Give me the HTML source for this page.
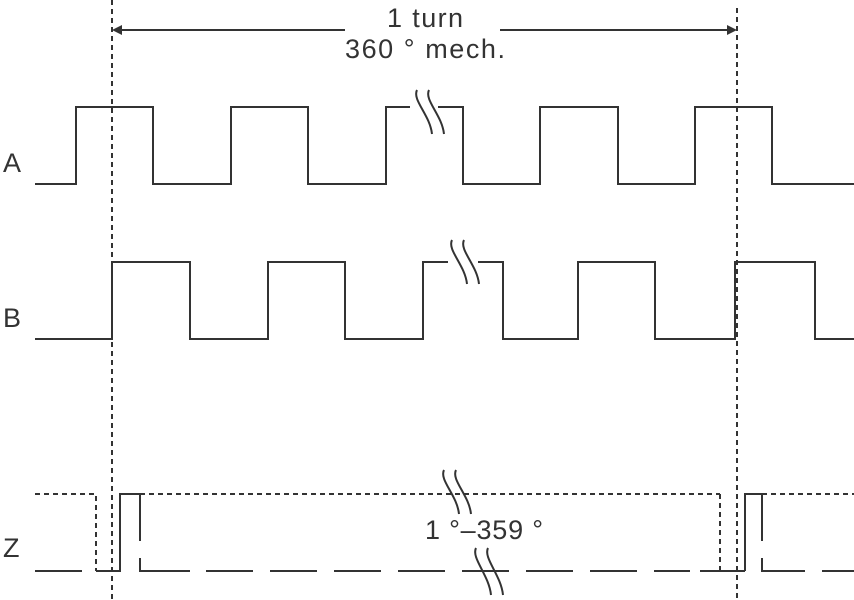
<!DOCTYPE html>
<html><head><meta charset="utf-8"><style>
html,body{margin:0;padding:0;background:#fff;}
svg{display:block;}
text{font-family:"Liberation Sans",sans-serif;fill:#333;}
</style></head><body>
<svg width="854" height="600" viewBox="0 0 854 600" xmlns="http://www.w3.org/2000/svg">
<g fill="none" stroke="#333" stroke-width="2">
<line x1="112" y1="0" x2="112" y2="600" stroke-dasharray="5 4"/>
<line x1="737" y1="8" x2="737" y2="600" stroke-dasharray="5 4"/>
<line x1="118" y1="30" x2="345" y2="30"/>
<line x1="500" y1="30" x2="731" y2="30"/>
</g>
<polygon points="112,30 122,25 122,35" fill="#333"/>
<polygon points="737,30 727,25 727,35" fill="#333"/>
<text x="387" y="27" font-size="27" textLength="76" lengthAdjust="spacing">1 turn</text>
<text x="345" y="58" font-size="27" textLength="160" lengthAdjust="spacing">360 ° mech.</text>

<g fill="none" stroke="#333" stroke-width="2">
<polyline points="35,184 76,184 76,107 153,107 153,184 231,184 231,107 308,107 308,184 386,184 386,107 410,107"/>
<polyline points="438,107 463,107 463,184 540,184 540,107 618,107 618,184 695,184 695,107 772,107 772,184 854,184"/>
<path d="M417,90 C412,100 430,115 432,134 M429,90 C424,100 442,115 444,134"/>
<polyline points="35,339 112,339 112,262 190,262 190,339 268,339 268,262 345,262 345,339 423,339 423,262 448,262"/>
<polyline points="478,262 503,262 503,339 578,339 578,262 655,262 655,339 735,339 735,262 815,262 815,339 854,339"/>
<path d="M452,240 C447,250 465,265 467,284 M464,240 C459,250 477,265 479,284"/>
<polyline points="35,494 96,494 96,571" stroke-dasharray="5 4"/>
<line x1="140" y1="494" x2="720" y2="494" stroke-dasharray="5 4"/>
<line x1="720" y1="494" x2="720" y2="571" stroke-dasharray="5 4"/>
<line x1="762" y1="494" x2="854" y2="494" stroke-dasharray="5 4"/>
<line x1="35" y1="571" x2="82" y2="571"/>
<polyline points="96,571 120,571 120,494 140,494 140,541"/>
<polyline points="140,558 140,571 190,571"/>
<line x1="206" y1="571" x2="690" y2="571" stroke-dasharray="47 17"/>
<line x1="700" y1="571" x2="745" y2="571"/>
<polyline points="745,571 745,494 762,494 762,541"/>
<polyline points="762,558 762,571 805,571"/>
<line x1="822" y1="571" x2="854" y2="571"/>
<path d="M444,470 C439,480 457,495 459,514 M456,470 C451,480 469,495 471,514"/>
<path d="M476,548 C471,558 489,575 491,595 M488,548 C483,558 501,575 503,595"/>
</g>
<rect x="418" y="515" width="132" height="32" fill="#fff"/>
<text x="425" y="539" font-size="27" textLength="118" lengthAdjust="spacing">1 °–359 °</text>
<text x="3" y="172" font-size="27">A</text>
<text x="3" y="327" font-size="27">B</text>
<text x="3" y="557" font-size="27">Z</text>
</svg>
</body></html>
